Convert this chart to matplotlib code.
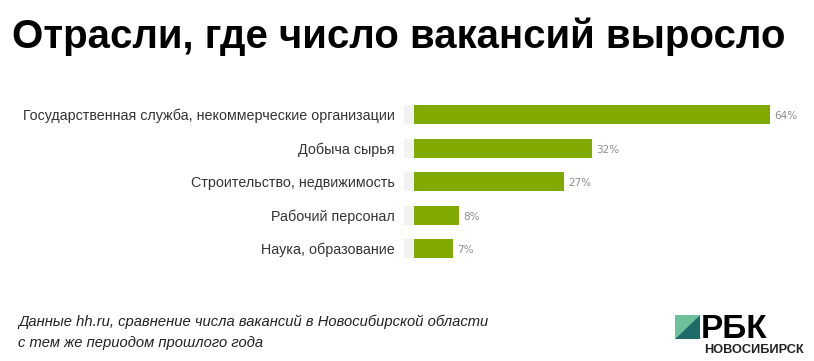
import matplotlib
matplotlib.use("Agg")
import matplotlib.pyplot as plt
from matplotlib.patches import Polygon

categories = [
    "Государственная служба, некоммерческие организации",
    "Добыча сырья",
    "Строительство, недвижимость",
    "Рабочий персонал",
    "Наука, образование",
]
values = [64, 32, 27, 8, 7]
value_labels = ["64%", "32%", "27%", "8%", "7%"]
title = "Отрасли, где число вакансий выросло"
note_lines = ["Данные hh.ru, сравнение числа вакансий в Новосибирской области",
              "с тем же периодом прошлого года"]

W, H = 814, 361
fig = plt.figure(figsize=(W / 100, H / 100), dpi=100)
fig.patch.set_facecolor("white")

px_per = 5.5625
ax_left, ax_right = 404, 805
x0 = -(414 - 404) / px_per
x1 = (ax_right - 414) / px_per
ax = fig.add_axes([ax_left / W, 1 - 265.5 / H, (ax_right - ax_left) / W, 167.5 / H])
ax.set_xlim(x0, x1)
ax.set_ylim(len(categories) - 0.5, -0.5)
ypos = list(range(len(categories)))
bar_h = 0.57
strip = -x0
ax.barh(ypos, [strip] * len(ypos), left=x0, height=bar_h, color="#f3f3f3", linewidth=0)
ax.barh(ypos, values, left=0, height=bar_h, color="#80aa00", linewidth=0)
for y, v, lab in zip(ypos, values, value_labels):
    ax.text(v + 0.8, y + 0.05, lab, va="center", ha="left", fontsize=7.5,
            color="#8c8c8c", family="DejaVu Sans")
ax.set_yticks(ypos)
ax.set_yticklabels(categories, fontsize=10.3, color="#333333", family="Liberation Sans")
ax.tick_params(axis="y", length=0, pad=6.5)
ax.set_xticks([])
for s in ax.spines.values():
    s.set_visible(False)

fig.text(12 / W, 1 - 47.5 / H, title, fontsize=29, fontweight="bold",
         family="Liberation Sans", color="black", ha="left", va="baseline")

for i, line in enumerate(note_lines):
    fig.text(18 / W, 1 - (326 + 20.5 * i) / H, line, fontsize=10.6, style="italic",
             family="Liberation Sans", color="#222222", ha="left", va="baseline")

def fx(px):
    return px / W
def fy(py):
    return 1 - py / H
sq = [675, 315, 700, 339]
fig.patches.append(Polygon([(fx(sq[0]), fy(sq[1])), (fx(sq[2]), fy(sq[1])), (fx(sq[0]), fy(sq[3]))],
                           closed=True, transform=fig.transFigure, color="#6cc09a", linewidth=0))
fig.patches.append(Polygon([(fx(sq[2]), fy(sq[1])), (fx(sq[2]), fy(sq[3])), (fx(sq[0]), fy(sq[3]))],
                           closed=True, transform=fig.transFigure, color="#1e6b68", linewidth=0))
fig.text(fx(701), fy(338.5), "РБК", fontsize=24, fontweight="bold",
         family="Liberation Sans", color="black", ha="left", va="baseline")
fig.text(fx(704), fy(353), "НОВОСИБИРСК", fontsize=9.2, fontweight="bold",
         family="Liberation Sans", color="#222222", ha="left", va="baseline")

fig.savefig("out.png", dpi=100, facecolor="white")
